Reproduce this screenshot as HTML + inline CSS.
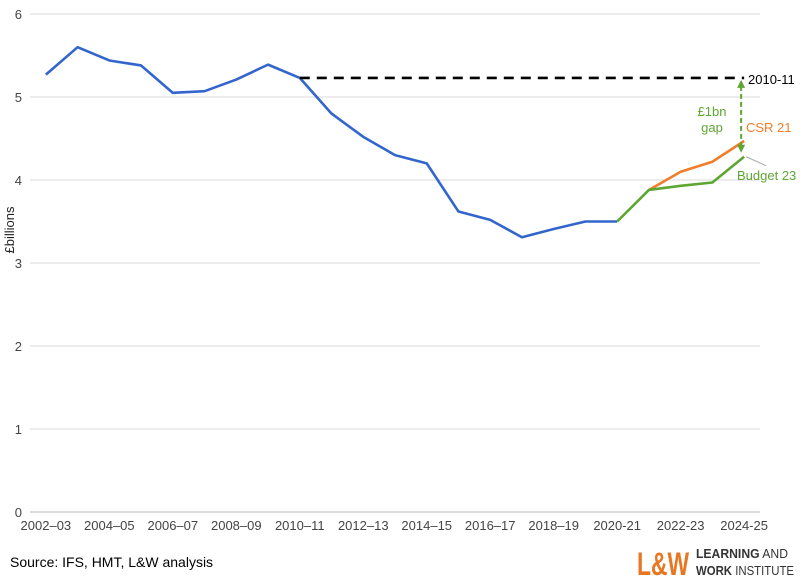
<!DOCTYPE html>
<html><head><meta charset="utf-8"><style>
body{margin:0;background:#fff;font-family:"Liberation Sans",Arial,sans-serif}
svg text{font-family:"Liberation Sans",Arial,sans-serif}
</style></head><body>
<svg width="800" height="581" viewBox="0 0 800 581">
<g id="grid"></g>
<g id="axes"></g>
<g id="series"></g>
<text x="14" y="230" transform="rotate(-90 14 230)" text-anchor="middle" font-size="13" fill="#222">£billions</text>
<text x="10" y="567" font-size="14" fill="#000">Source: IFS, HMT, L&amp;W analysis</text>
<g>
<text x="637" y="575" font-size="32" font-weight="bold" fill="#e87722" textLength="52" lengthAdjust="spacingAndGlyphs">L&amp;W</text>
<text x="696" y="558" font-size="13" fill="#333" textLength="92" lengthAdjust="spacingAndGlyphs"><tspan font-weight="bold">LEARNING</tspan> AND</text>
<text x="696" y="575" font-size="13" fill="#333" textLength="98" lengthAdjust="spacingAndGlyphs"><tspan font-weight="bold">WORK</tspan> INSTITUTE</text>
</g>
</svg>
<script>
const categories=["2002–03","2003–04","2004–05","2005–06","2006–07","2007–08","2008–09","2009–10","2010–11","2011–12","2012–13","2013–14","2014–15","2015–16","2016–17","2017–18","2018–19","2019–20","2020-21","2021-22","2022-23","2023-24","2024-25"];
const actual=[5.27,5.6,5.44,5.38,5.05,5.07,5.21,5.39,5.23,4.8,4.52,4.3,4.2,3.62,3.52,3.31,3.41,3.5,3.5];
const budget23=[3.5,3.88,3.93,3.97,4.28];
const csr21=[3.88,4.1,4.22,4.47];
const baseline2010=5.23;
const yTicks=[0,1,2,3,4,5,6];
const NS="http://www.w3.org/2000/svg";
const L=30,R=760,T=14,B=512,YMAX=6;
const bw=(R-L)/categories.length;
const x=i=>L+bw*(i+0.5);
const y=v=>B-(v/YMAX)*(B-T);
function mk(tag,attrs,parent){const e=document.createElementNS(NS,tag);for(const k in attrs)e.setAttribute(k,attrs[k]);parent.appendChild(e);return e;}
const grid=document.getElementById('grid'),axes=document.getElementById('axes'),ser=document.getElementById('series');
yTicks.forEach(t=>{
 const l=mk('line',{x1:L,x2:R,y1:y(t),y2:y(t),stroke:t===0?'#bbb':'#d9d9d9','stroke-width':1},grid);
 
 
 const tx=mk('text',{x:L-8,y:y(t)+5,'text-anchor':'end','font-size':13,fill:'#444'},axes);
 tx.textContent=t;
 
 
});
categories.forEach((c,i)=>{
 if(i%2)return;
 const tx=mk('text',{x:x(i),y:B+18,'text-anchor':'middle','font-size':13,fill:'#444'},axes);
 tx.textContent=c;
 
 
});
function line(vals,off,color,name,extra){
 const p=mk('polyline',Object.assign({points:vals.map((v,i)=>x(i+off)+','+y(v)).join(' '),fill:'none',stroke:color,'stroke-width':2.6,'stroke-linejoin':'round'},extra||{}),ser);
 
 
}
line(actual,0,'#3366cc','line-actual');
line(csr21,19,'#f07d2a','line-csr21');
line(budget23,18,'#5ea632','line-budget23');
const i10=categories.indexOf("2010–11"),last=categories.length-1;
const d=mk('line',{x1:x(i10),x2:x(last),y1:y(baseline2010),y2:y(baseline2010),stroke:'#000','stroke-width':2.6,'stroke-dasharray':'10 7'},ser);


const ax=x(last)-3, y1=y(baseline2010)+2, y2=y(budget23[budget23.length-1])-4;
const g=mk('line',{x1:ax,x2:ax,y1:y1+6,y2:y2-6,stroke:'#5ea632','stroke-width':2,'stroke-dasharray':'5 3'},ser);


const h1=mk('polygon',{points:`${ax-4},${y1+8} ${ax+4},${y1+8} ${ax},${y1}`,fill:'#5ea632'},ser);


const h2=mk('polygon',{points:`${ax-4},${y2-8} ${ax+4},${y2-8} ${ax},${y2}`,fill:'#5ea632'},ser);


const ld=mk('line',{x1:x(last)+2,y1:y(4.28),x2:x(last)+22,y2:y(4.28)+9,stroke:'#aaa','stroke-width':1},ser);


function lbl(t,xx,yy,c,n,anchor){const e=mk('text',{x:xx,y:yy,'font-size':13,fill:c,'text-anchor':anchor||'start'},ser);e.textContent=t;
 
 }
lbl('2010-11',748,84,'#000','label-2010-11');
lbl('£1bn',712,116,'#5ea632','label-gap-1','middle');
lbl('gap',712,132,'#5ea632','label-gap-2','middle');
lbl('CSR 21',746,132,'#f07d2a','label-csr21');
lbl('Budget 23',737,180,'#5ea632','label-budget23');
</script>
</body></html>
